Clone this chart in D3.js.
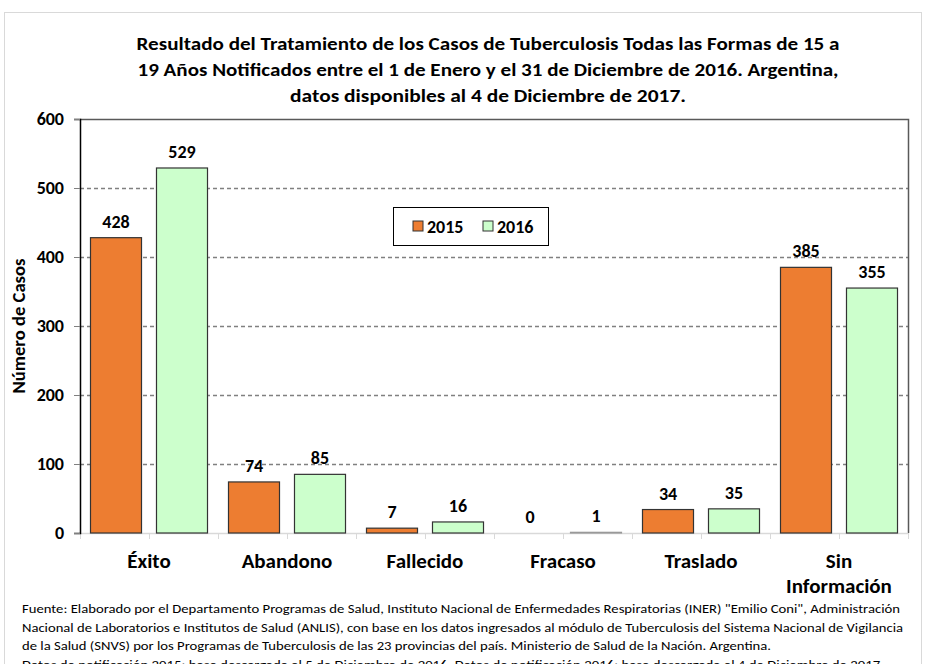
<!DOCTYPE html>
<html>
<head>
<meta charset="utf-8">
<script src="https://cdn.jsdelivr.net/npm/d3@7"></script>
<style>
  body { margin: 0; background: #fff; }
  svg text { font-family: Carlito, Calibri, "Liberation Sans Narrow", "Open Sans", sans-serif; }
</style>
</head>
<body>
<div id="chart"></div>
<script>
// valores
const categories = ['Éxito', 'Abandono', 'Fallecido', 'Fracaso', 'Traslado', 'Sin Información'];
const series = ['2015', '2016'];
const values2015 = [428, 74, 7, 0, 34, 385];
const values2016 = [529, 85, 16, 1, 35, 355];
const yTicks = [0, 100, 200, 300, 400, 500, 600];
const colors = ['#ED7D31', '#CCFFCC'];

const titleLines = [
  'Resultado del Tratamiento de los Casos de Tuberculosis Todas las Formas de 15 a',
  '19 Años Notificados entre el 1 de Enero y el 31 de Diciembre de 2016. Argentina,',
  'datos disponibles al 4 de Diciembre de 2017.'
];
const footerLines = [
  'Fuente: Elaborado por el Departamento Programas de Salud, Instituto Nacional de Enfermedades Respiratorias (INER) "Emilio Coni", Administración',
  'Nacional de Laboratorios e Institutos de Salud (ANLIS), con base en los datos ingresados al módulo de Tuberculosis del Sistema Nacional de Vigilancia',
  'de la Salud (SNVS) por los Programas de Tuberculosis de las 23 provincias del país. Ministerio de Salud de la Nación. Argentina.',
  'Datos de notificación 2015: base descargada el 5 de  Diciembre de 2016. Datos de notificación 2016: base descargada el 4 de Diciembre de 2017.'
];

const width = 930, height = 664;
const plotLeft = 80, plotRight = 908, plotTop = 119, plotBottom = 533;

const svg = d3.select('#chart').append('svg')
  .attr('width', width)
  .attr('height', height);

// marco exterior
svg.append('rect')
  .attr('x', 4.5).attr('y', 12.5)
  .attr('width', 917).attr('height', 700)
  .attr('fill', 'none')
  .attr('stroke', '#d9d9d9');

// titulo
const titleW = [703, 701, 396];
svg.append('g').selectAll('text')
  .data(titleLines)
  .enter().append('text')
    .attr('x', 488)
    .attr('y', (d, i) => 50 + i * 26)
    .attr('text-anchor', 'middle')
    .attr('font-size', 18)
    .attr('font-weight', 'bold')
    .attr('textLength', (d, i) => titleW[i])
    .attr('lengthAdjust', 'spacingAndGlyphs')
    .text(d => d);

const x0 = d3.scaleBand().domain(categories).range([plotLeft, plotRight]);
const x1 = d3.scaleBand().domain(series).range([0, x0.bandwidth()])
  .paddingInner(0.227).paddingOuter(0.159);
const y = d3.scaleLinear().domain([0, 600]).range([plotBottom, plotTop]);

// lineas de grilla
svg.append('g').selectAll('line')
  .data(yTicks.filter(t => t > 0 && t < 600))
  .enter().append('line')
    .attr('x1', plotLeft).attr('x2', plotRight)
    .attr('y1', d => y(d) + 0.5).attr('y2', d => y(d) + 0.5)
    .attr('stroke', '#808080')
    .attr('stroke-width', 1.5)
    .attr('stroke-dasharray', '4,3');

// borde del area de grafico
svg.append('path')
  .attr('d', `M${plotLeft},${plotTop + 0.5}H${plotRight + 0.5}V${plotBottom}`)
  .attr('fill', 'none')
  .attr('stroke', '#595959')
  .attr('stroke-width', 1.5);

// eje x (gris claro, con marcas cada media categoria)
svg.append('line')
  .attr('x1', plotLeft).attr('x2', plotRight)
  .attr('y1', plotBottom + 0.5).attr('y2', plotBottom + 0.5)
  .attr('stroke', '#d9d9d9').attr('stroke-width', 1.5);
const xTickPos = [];
categories.forEach(c => { xTickPos.push(x0(c)); xTickPos.push(x0(c) + x0.bandwidth() / 2); });
xTickPos.push(plotRight);
svg.append('g').selectAll('line')
  .data(xTickPos)
  .enter().append('line')
    .attr('x1', d => d + 0.5).attr('x2', d => d + 0.5)
    .attr('y1', plotBottom).attr('y2', plotBottom + 6)
    .attr('stroke', '#d9d9d9');

// barras
const rows = categories.map((c, i) => ({ cat: c, vals: [values2015[i], values2016[i]] }));
const groups = svg.append('g').selectAll('g')
  .data(rows)
  .enter().append('g')
    .attr('transform', d => `translate(${x0(d.cat)},0)`);

groups.selectAll('rect')
  .data(d => d.vals.map((v, j) => ({ key: series[j], v: v })))
  .enter().append('rect')
    .filter(d => d.v > 0)
    .attr('x', d => x1(d.key))
    .attr('y', d => y(d.v))
    .attr('width', x1.bandwidth())
    .attr('height', d => y(0) - y(d.v))
    .attr('fill', d => d.key === '2015' ? colors[0] : colors[1])
    .attr('stroke', d => d.v < 3 ? '#999' : '#333')
    .attr('stroke-width', 1.2);

groups.selectAll('text')
  .data(d => d.vals.map((v, j) => ({ key: series[j], v: v })))
  .enter().append('text')
    .attr('x', d => x1(d.key) + x1.bandwidth() / 2)
    .attr('y', d => y(d.v) - 10)
    .attr('text-anchor', 'middle')
    .attr('font-size', 18)
    .attr('font-weight', 'bold')
    .text(d => d.v);

// eje y
const yAxis = svg.append('g')
  .attr('transform', `translate(${plotLeft},0)`)
  .call(d3.axisLeft(y).tickValues(yTicks).tickSize(6).tickPadding(10));
yAxis.select('.domain').attr('stroke', '#000').attr('stroke-width', 1.5);
yAxis.selectAll('.tick line').attr('stroke', '#808080');
yAxis.selectAll('.tick text')
  .attr('font-size', 18)
  .attr('font-weight', 'bold')
  .attr('font-family', 'Carlito, Calibri, "Liberation Sans Narrow", "Open Sans", sans-serif')
  .attr('fill', '#000');

svg.append('text')
  .attr('transform', 'translate(25,326) rotate(-90)')
  .attr('text-anchor', 'middle')
  .attr('font-size', 17)
  .attr('font-weight', 'bold')
  .attr('textLength', 135)
  .attr('lengthAdjust', 'spacingAndGlyphs')
  .text('Número de Casos');

// etiquetas de categorias
const catLabels = svg.append('g').selectAll('text')
  .data(categories)
  .enter().append('text')
    .attr('x', d => x0(d) + x0.bandwidth() / 2)
    .attr('y', 568)
    .attr('text-anchor', 'middle')
    .attr('font-size', 21)
    .attr('font-weight', 'bold');
catLabels.each(function(d) {
  const words = d === 'Sin Información' ? ['Sin', 'Información'] : [d];
  const t = d3.select(this);
  words.forEach((w, i) => {
    t.append('tspan')
      .attr('x', x0(d) + x0.bandwidth() / 2)
      .attr('dy', i === 0 ? 0 : 25)
      .text(w);
  });
});

// leyenda
const legend = svg.append('g');
legend.append('rect')
  .attr('x', 393.5).attr('y', 207.5)
  .attr('width', 155).attr('height', 38)
  .attr('fill', '#fff')
  .attr('stroke', '#000');
series.forEach((s, i) => {
  legend.append('rect')
    .attr('x', 413 + i * 70).attr('y', 221)
    .attr('width', 10).attr('height', 10)
    .attr('fill', colors[i])
    .attr('stroke', '#333');
  legend.append('text')
    .attr('x', 427 + i * 70).attr('y', 233)
    .attr('font-size', 18)
    .attr('font-weight', 'bold')
    .text(s);
});

// fuente
const footW = [878, 881, 749, 862];
svg.append('g').selectAll('text')
  .data(footerLines)
  .enter().append('text')
    .attr('x', 22)
    .attr('y', (d, i) => 613 + i * 18.5)
    .attr('font-size', 13)
    .attr('textLength', (d, i) => footW[i])
    .attr('lengthAdjust', 'spacingAndGlyphs')
    .text(d => d);
</script>
</body>
</html>
